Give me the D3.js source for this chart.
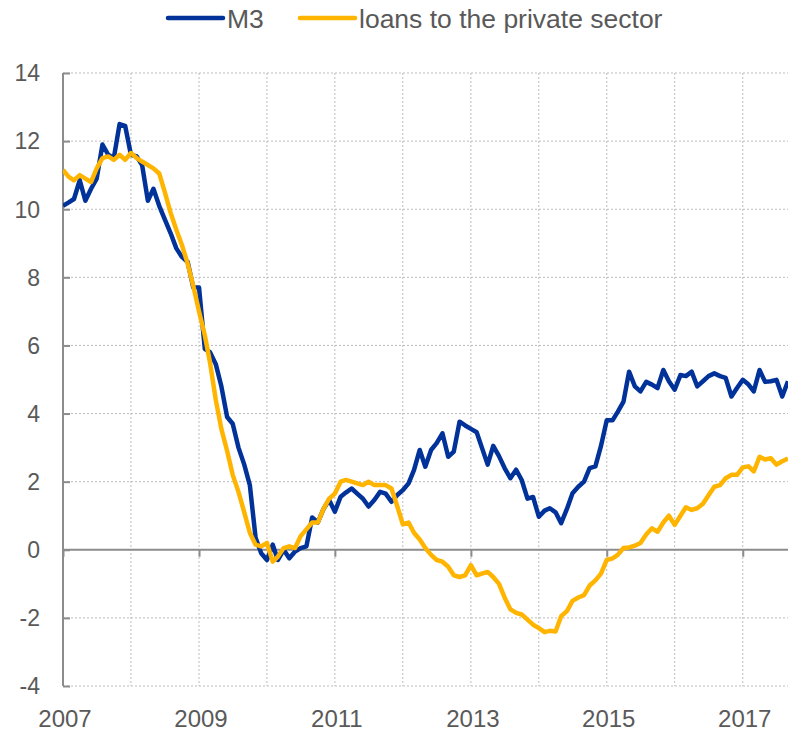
<!DOCTYPE html>
<html>
<head>
<meta charset="utf-8">
<script src="https://cdn.jsdelivr.net/npm/d3@7"></script>
<style>
  body { margin: 0; background: #fff; }
  svg text { font-family: "Liberation Sans", Arial, sans-serif; fill: #595959; }
</style>
</head>
<body>
<div id="chart"></div>
<script>
// monthly observations, Jan 2007 .. Sep 2017
const months = d3.timeMonth.range(new Date(2007, 0, 1), new Date(2017, 9, 1));

// M3, annual growth rate (%)
const m3 = [
  10.1, 10.2, 10.3, 10.85, 10.25, 10.6, 10.9, 11.9, 11.6, 11.5, 12.5, 12.45,
  11.6, 11.55, 11.3, 10.25, 10.6, 10.1, 9.7, 9.3, 8.85, 8.6, 8.45, 7.7,
  7.7, 5.9, 5.8, 5.45, 4.8, 3.9, 3.7, 3.0, 2.5, 1.9, 0.35, -0.1,
  -0.3, 0.15, -0.3, 0.0, -0.25, -0.05, 0.05, 0.1, 0.95, 0.8, 1.2, 1.46,
  1.12, 1.56, 1.68, 1.8, 1.65, 1.5, 1.27, 1.46, 1.7, 1.65, 1.41, 1.6,
  1.75, 1.95, 2.34, 2.93, 2.44, 2.93, 3.13, 3.42, 2.73, 2.88, 3.76, 3.65,
  3.55, 3.45, 3.0, 2.5, 3.05, 2.75, 2.4, 2.1, 2.35, 2.05, 1.5, 1.55,
  0.97, 1.15, 1.22, 1.1, 0.78, 1.2, 1.66, 1.85, 2.0, 2.4, 2.45, 3.05,
  3.8, 3.8, 4.05, 4.35, 5.23, 4.8, 4.65, 4.93, 4.85, 4.75, 5.28, 4.95,
  4.7, 5.13, 5.1, 5.23, 4.8, 4.95, 5.1, 5.18, 5.1, 5.05, 4.5, 4.75,
  4.99, 4.85, 4.65, 5.28, 4.93, 4.95, 4.99, 4.5, 4.95
];

// loans to the private sector, annual growth rate (%)
const loans = [
  11.15, 10.95, 10.85, 11.0, 10.9, 10.8, 11.2, 11.5, 11.55, 11.45, 11.6, 11.45,
  11.65, 11.5, 11.4, 11.3, 11.2, 11.05, 10.5, 9.9, 9.4, 8.95, 8.4, 7.75,
  7.0, 6.3, 5.5, 4.4, 3.55, 2.9, 2.2, 1.7, 1.1, 0.5, 0.15, 0.1,
  0.2, -0.35, -0.2, 0.05, 0.1, 0.05, 0.4, 0.6, 0.8, 0.8, 1.2, 1.5,
  1.65, 2.0, 2.05, 2.0, 1.95, 1.9, 2.0, 1.9, 1.9, 1.9, 1.8, 1.3,
  0.75, 0.8, 0.5, 0.3, 0.05, -0.15, -0.3, -0.35, -0.5, -0.75, -0.8, -0.75,
  -0.45, -0.75, -0.7, -0.65, -0.8, -1.0, -1.4, -1.75, -1.85, -1.9, -2.05, -2.2,
  -2.3, -2.42, -2.38, -2.4, -1.95, -1.8, -1.5, -1.4, -1.33, -1.05, -0.9, -0.7,
  -0.3, -0.25, -0.15, 0.05, 0.07, 0.12, 0.2, 0.45, 0.63, 0.53, 0.8, 1.0,
  0.73, 1.0, 1.25, 1.17, 1.22, 1.35, 1.6, 1.85, 1.9, 2.1, 2.2, 2.2,
  2.42, 2.45, 2.3, 2.73, 2.65, 2.69, 2.5, 2.6, 2.68
];

const yTicks = [-4, -2, 0, 2, 4, 6, 8, 10, 12, 14];
const yearLabels = [2007, 2009, 2011, 2013, 2015, 2017];
const gridYears = [2008, 2009, 2010, 2011, 2012, 2013, 2014, 2015, 2016, 2017];

const seriesNames = ["M3", "loans to the private sector"];
const seriesColors = ["#003299", "#ffb400"];

const width = 788, height = 731;
const plotLeft = 63, plotRight = 788, plotTop = 73, plotBottom = 686;

const svg = d3.select("#chart").append("svg")
    .attr("width", width)
    .attr("height", height);

const x = d3.scaleTime()
    .domain([months[0], months[months.length - 1]])
    .range([plotLeft, plotRight]);

const y = d3.scaleLinear()
    .domain([-4, 14])
    .range([plotBottom, plotTop]);

// grid lines
svg.append("g")
    .selectAll("line")
    .data(yTicks.filter(d => d !== 0))
    .join("line")
    .attr("x1", plotLeft).attr("x2", plotRight)
    .attr("y1", d => y(d)).attr("y2", d => y(d))
    .attr("stroke", "#bdbdbd")
    .attr("stroke-width", 1)
    .attr("stroke-dasharray", "2,2");

svg.append("g")
    .selectAll("line")
    .data(gridYears)
    .join("line")
    .attr("x1", d => x(new Date(d, 0, 1))).attr("x2", d => x(new Date(d, 0, 1)))
    .attr("y1", plotTop).attr("y2", plotBottom)
    .attr("stroke", "#bdbdbd")
    .attr("stroke-width", 1)
    .attr("stroke-dasharray", "2,2");

// y axis: ticks point into the plot
const yAxis = svg.append("g")
    .attr("transform", `translate(${plotLeft},0)`)
    .call(d3.axisRight(y).tickValues(yTicks).tickSize(7).tickFormat(""));
yAxis.select(".domain").attr("stroke", "#8c8c8c").attr("stroke-width", 2)
    .attr("d", `M0,${plotTop}V${plotBottom}`);
yAxis.selectAll(".tick line").attr("stroke", "#8c8c8c").attr("stroke-width", 2);

svg.append("g")
    .selectAll("text")
    .data(yTicks)
    .join("text")
    .attr("x", 40)
    .attr("y", d => y(d))
    .attr("dy", "0.36em")
    .attr("text-anchor", "end")
    .style("font-size", "23px")
    .text(d => d);

// zero line with year ticks
const xAxis = svg.append("g")
    .attr("transform", `translate(0,${y(0)})`)
    .call(d3.axisBottom(x)
        .tickValues(yearLabels.map(d => new Date(d, 0, 1)))
        .tickSize(7)
        .tickFormat(""));
xAxis.select(".domain").attr("stroke", "#8c8c8c").attr("stroke-width", 2)
    .attr("d", `M${plotLeft},0H${plotRight}`);
xAxis.selectAll(".tick line").attr("stroke", "#8c8c8c").attr("stroke-width", 2);

svg.append("g")
    .selectAll("text")
    .data(yearLabels)
    .join("text")
    .attr("x", d => x(new Date(d, 0, 1)) + 2)
    .attr("y", 718)
    .attr("dy", "0.36em")
    .attr("text-anchor", "middle")
    .style("font-size", "24px")
    .text(d => d);

// lines
const line = d3.line()
    .x((d, i) => x(months[i]))
    .y(d => y(d));

svg.append("defs").append("clipPath")
    .attr("id", "plot-clip")
    .append("rect")
    .attr("x", plotLeft).attr("y", 0)
    .attr("width", plotRight - plotLeft + 10).attr("height", height);

const plot = svg.append("g").attr("clip-path", "url(#plot-clip)");

[m3, loans].forEach((s, i) => {
    plot.append("path")
        .datum(s)
        .attr("fill", "none")
        .attr("stroke", seriesColors[i])
        .attr("stroke-width", 4.5)
        .attr("stroke-linejoin", "round")
        .attr("d", line);
});

// legend
const legendX = [168, 300];
const legend = svg.append("g");
seriesNames.forEach((name, i) => {
    legend.append("line")
        .attr("x1", legendX[i]).attr("x2", legendX[i] + 55)
        .attr("y1", 18).attr("y2", 18)
        .attr("stroke", seriesColors[i])
        .attr("stroke-width", 4.5)
        .attr("stroke-linecap", "round");
    legend.append("text")
        .attr("x", legendX[i] + 59)
        .attr("y", 18)
        .attr("dy", "0.36em")
        .style("font-size", "26.5px")
        .text(name);
});
</script>
</body>
</html>
